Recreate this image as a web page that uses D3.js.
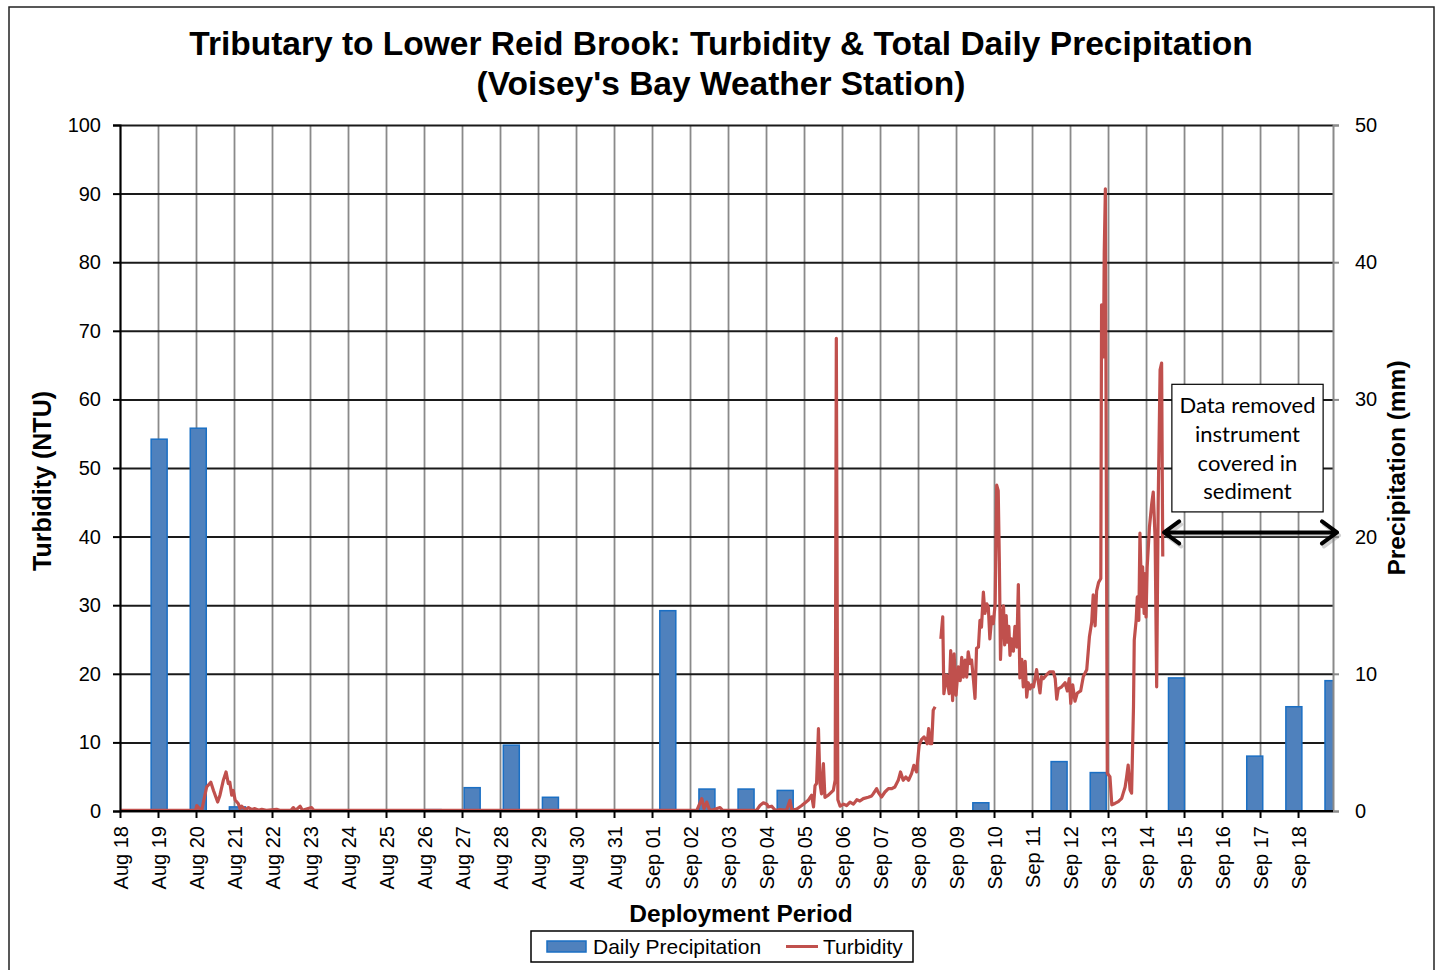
<!DOCTYPE html>
<html>
<head>
<meta charset="utf-8">
<script src="https://cdn.jsdelivr.net/npm/d3@7"></script>
<style>
  body { margin: 0; background: #fff; }
  svg { display: block; }
  text { font-family: "Liberation Sans", Arial, sans-serif; fill: #000; }
</style>
</head>
<body>
<svg width="1437" height="970"></svg>
<script>
// x tick labels, one per day from Aug 18
const dayLabels = ['Aug 18','Aug 19','Aug 20','Aug 21','Aug 22','Aug 23','Aug 24','Aug 25','Aug 26',
  'Aug 27','Aug 28','Aug 29','Aug 30','Aug 31','Sep 01','Sep 02','Sep 03','Sep 04','Sep 05','Sep 06',
  'Sep 07','Sep 08','Sep 09','Sep 10','Sep 11','Sep 12','Sep 13','Sep 14','Sep 15','Sep 16','Sep 17','Sep 18'];

// daily precipitation (mm), one bar per category (Aug 18 .. Sep 18)
const precip = [0, 27.1, 27.9, 0.3, 0, 0, 0, 0, 0.1, 1.7, 4.8, 1.0, 0, 0, 14.6, 1.6,
  1.6, 1.5, 0, 0, 0, 0, 0.6, 0, 3.6, 2.8, 0, 9.7, 0, 4.0, 7.6, 9.5];

// turbidity (NTU): time in days since Aug 18 00:00, null = gap in record
const turbDay = [0, 1.99, 2.02, 2.08, 2.15, 2.28, 2.39, 2.46, 2.57, 2.63, 2.72, 2.79, 2.85, 2.89, 2.94, 2.98,
  3.03, 3.11, 3.16, 3.2, 3.3, 3.38, 3.47, 3.55, 3.65, 3.73, 3.85, 4.12, 4.2, 4.5, 4.56, 4.62, 4.74, 4.8, 5.04, 5.1,
  15.18, 15.31, 15.37, 15.44, 15.51, 15.57, 15.79, 15.86, 16.75, 16.84, 16.93, 17.02, 17.06, 17.15, 17.24,
  17.37, 17.54, 17.63, 17.68, 17.81, 17.94, 18.03, 18.11, 18.2, 18.25, 18.29, 18.33, 18.38, 18.42, 18.46,
  18.51, 18.55, 18.64, 18.77, 18.82, 18.85, 18.89, 18.95, 19.04, 19.12, 19.21, 19.3, 19.39, 19.47, 19.56,
  19.69, 19.78, 19.82, 19.91, 19.95, 20.04, 20.13, 20.22, 20.31, 20.39, 20.48, 20.54, 20.61, 20.68, 20.75,
  20.83, 20.89, 20.96, 21.03, 21.09, 21.16, 21.21, 21.24, 21.28, 21.32, 21.36, 21.40, 21.45, 21.52,
  21.60, 21.65, 21.68, 21.75, 21.82, 21.86, 21.91, 21.95, 22.0, 22.06, 22.11, 22.15, 22.19, 22.24, 22.28,
  22.32, 22.37, 22.41, 22.46, 22.50, 22.54, 22.59, 22.63, 22.67, 22.72, 22.76, 22.81, 22.85, 22.89, 22.94,
  22.98, 23.03, 23.07, 23.11, 23.14, 23.17, 23.21, 23.25, 23.28, 23.32, 23.35, 23.39, 23.42, 23.46, 23.51,
  23.55, 23.60, 23.64, 23.68, 23.73, 23.77, 23.82, 23.86, 23.90, 23.95, 23.99, 24.04, 24.12, 24.17, 24.21,
  24.25, 24.30, 24.39, 24.47, 24.56, 24.61, 24.65, 24.69, 24.78, 24.87, 24.93, 24.98, 25.02, 25.07, 25.13,
  25.19, 25.28, 25.35, 25.44, 25.51, 25.57, 25.61, 25.66, 25.70, 25.75, 25.81, 25.83, 25.88, 25.90, 25.93,
  25.98, 26.05, 26.10, 26.18, 26.27, 26.36, 26.40, 26.45, 26.49, 26.53, 26.58, 26.62, 26.67, 26.69, 26.74,
  26.77, 26.81, 26.84, 26.89, 26.91, 26.95, 26.97, 27.0, 27.03, 27.09, 27.15, 27.19, 27.24, 27.28, 27.32,
  27.37, 27.41, 27.44];
const turbValue = [0.1, 0.1, 0.8, 0.4, 0.1, 3.5, 4.2, 3.0, 1.3, 2.3, 4.5, 5.7, 4.0, 4.2, 2.3, 3.0,
  1.6, 1.1, 0.35, 0.7, 0.2, 0.5, 0.2, 0.35, 0.1, 0.25, 0.1, 0.25, 0.1, 0.1, 0.5, 0.1, 0.7, 0.1, 0.5, 0.1,
  0.1, 1.8, 0.35, 1.3, 0.2, 0.1, 0.5, 0.1, 0.1, 0.8, 1.2, 1.0, 0.6, 0.7, 0.1,
  0.2, 0.1, 1.55, 0.1, 0.3, 0.8, 1.2, 1.55, 2.3, 0.6, 3.7, 4.0, 12.0, 4.0, 2.5,
  6.9, 2.0, 2.3, 3.0, 4.5, 68.9, 1.65, 0.7, 1.0, 0.8, 1.3, 1.0, 1.65, 1.45, 1.8,
  2.0, 2.2, 2.5, 3.26, 2.77, 2.04, 2.77, 3.26, 3.26, 3.5, 4.47, 5.69, 4.47, 4.96, 4.47,
  5.44, 6.66, 5.69, 9.57, 10.4, 10.8, 10.3, 9.8, 12.0, 9.8, 9.8, 14.7, 15.2, null,
  25.1, 28.3, 17.1, 19.8, 17.1, 23.4, 16.1, 22.9, 16.9, 21.0, 19.0, 22.4, 19.5, 22.0, 19.5,
  23.2, 21.5, 22.0, 19.0, 16.4, 23.7, 23.9, 27.8, 26.8, 31.9, 28.8, 30.2, 29.7, 25.1, 28.3,
  27.3, 30.2, 47.5, 46.7, 36.5, 22.1, 28.0, 29.9, 24.2, 28.5, 24.6, 26.9, 22.7, 25.1, 23.3,
  26.9, 23.9, 33.0, 19.4, 22.1, 18.1, 21.8, 16.6, 18.7, 17.8, 18.4, 18.1, 20.6, 18.7, 17.2,
  19.6, 19.3, 19.9, 20.3, 20.3, 19.3, 16.3, 17.8, 18.1, 18.7, 17.5, 19.3, 15.7, 18.4, 16.0,
  17.2, 17.5, 19.6, 20.6, 25.4, 27.5, 31.5, 27.0, 32.1, 33.3, 33.9, 73.8, 66.2, 81.4, 90.7,
  5.5, 5.0, 0.9, 1.1, 1.36, 1.85, 2.6, 3.5, 5.0, 6.7, 3.1, 2.6, 15.2, 24.9, 27.8,
  31.2, 27.8, 40.5, 29.8, 35.6, 28.8, 34.6, 28.3, 35.6, 41.4, 44.8, 46.5, 39.5, 18.1, 45.0,
  64.3, 65.3, 37.1];

const turbTicks = [0, 10, 20, 30, 40, 50, 60, 70, 80, 90, 100];
const precipTicks = [0, 10, 20, 30, 40, 50];
const noteLines = ['Data removed', 'instrument', 'covered in', 'sediment'];

const svg = d3.select('svg');
const margin = {left: 120, top: 125, right: 104, bottom: 159};
const width = 1437 - margin.left - margin.right;
const height = 970 - margin.top - margin.bottom;
const blue = '#4f81bd', red = '#c0504d';

// chart border
svg.append('rect').attr('x', 9).attr('y', 7).attr('width', 1425).attr('height', 990)
  .attr('fill', 'none').attr('stroke', '#222').attr('stroke-width', 1.5);

svg.append('text').attr('x', 721).attr('y', 55).attr('text-anchor', 'middle')
  .style('font-size', '33.5px').style('font-weight', 'bold')
  .text('Tributary to Lower Reid Brook: Turbidity & Total Daily Precipitation');
svg.append('text').attr('x', 721).attr('y', 95).attr('text-anchor', 'middle')
  .style('font-size', '33.5px').style('font-weight', 'bold')
  .text("(Voisey's Bay Weather Station)");

const g = svg.append('g').attr('transform', `translate(${margin.left},${margin.top})`);

const xLine = d3.scaleLinear().domain([0, 31.92]).range([0, width]);
const xBar = d3.scaleLinear().domain([0, precip.length - 1]).range([0, width]);
const yL = d3.scaleLinear().domain([0, 100]).range([height, 0]);
const yR = d3.scaleLinear().domain([0, 50]).range([height, 0]);

// grid
g.append('g').attr('class', 'vgrid')
  .attr('transform', `translate(0,${height})`)
  .call(d3.axisBottom(xLine).tickValues(d3.range(dayLabels.length)).tickSize(-height).tickFormat(''))
  .call(a => a.select('.domain').remove())
  .call(a => a.selectAll('line').attr('stroke', '#8a8a8a').attr('stroke-width', 1.8));
g.append('g').attr('class', 'hgrid')
  .call(d3.axisLeft(yL).tickValues(turbTicks).tickSize(-width).tickFormat(''))
  .call(a => a.select('.domain').remove())
  .call(a => a.selectAll('line').attr('stroke', '#1a1a1a').attr('stroke-width', 2));

svg.append('clipPath').attr('id', 'plot')
  .append('rect').attr('x', 0).attr('y', -5).attr('width', width + 1).attr('height', height + 10);

const plot = g.append('g').attr('clip-path', 'url(#plot)');

const barW = 16;
plot.selectAll('rect.bar').data(precip.map((v, i) => ({i, v})).filter(d => d.v > 0))
  .enter().append('rect')
  .attr('class', 'bar')
  .attr('x', d => xBar(d.i) - barW / 2)
  .attr('y', d => yR(d.v))
  .attr('width', barW)
  .attr('height', d => yR(0) - yR(d.v))
  .attr('fill', blue)
  .attr('stroke', '#1a6fc4')
  .attr('stroke-width', 1.5);

const turb = turbDay.map((d, i) => ({d, v: turbValue[i]}));
const line = d3.line().defined(d => d.v !== null).x(d => xLine(d.d)).y(d => yL(d.v));
plot.append('path').datum(turb)
  .attr('d', line)
  .attr('fill', 'none')
  .attr('stroke', red)
  .attr('stroke-width', 3.2)
  .attr('stroke-linejoin', 'round');

// axes
g.append('g')
  .call(d3.axisLeft(yL).tickValues(turbTicks).tickSize(7).tickPadding(12))
  .call(a => a.selectAll('line, path').attr('stroke', '#000').attr('stroke-width', 2))
  .call(a => a.selectAll('text').style('font-size', '20px').style('font-family', '"Liberation Sans", Arial'));

g.append('g').attr('transform', `translate(${width},0)`)
  .call(d3.axisRight(yR).tickValues(precipTicks).tickSize(6).tickPadding(16))
  .call(a => a.selectAll('line, path').attr('stroke', '#8a8a8a').attr('stroke-width', 2))
  .call(a => a.selectAll('text').style('font-size', '20px').style('font-family', '"Liberation Sans", Arial'));

g.append('g').attr('transform', `translate(0,${height})`)
  .call(d3.axisBottom(xLine).tickValues(d3.range(dayLabels.length)).tickFormat(i => dayLabels[i]).tickSize(7))
  .call(a => a.select('.domain').attr('d', `M0,0H${width}`))
  .call(a => a.selectAll('line, path').attr('stroke', '#000').attr('stroke-width', 2))
  .call(a => a.selectAll('text')
    .style('font-size', '20px').style('font-family', '"Liberation Sans", Arial')
    .attr('text-anchor', 'end')
    .attr('transform', 'rotate(-90)')
    .attr('x', -15).attr('y', 0).attr('dy', '0.35em'));

// axis titles
svg.append('text').attr('transform', 'translate(51,481) rotate(-90)').attr('text-anchor', 'middle')
  .style('font-size', '25px').style('font-weight', 'bold').text('Turbidity (NTU)');
svg.append('text').attr('transform', 'translate(1405,468) rotate(-90)').attr('text-anchor', 'middle')
  .style('font-size', '24.5px').style('font-weight', 'bold').text('Precipitation (mm)');
svg.append('text').attr('x', 741).attr('y', 922).attr('text-anchor', 'middle')
  .style('font-size', '24.5px').style('font-weight', 'bold').text('Deployment Period');

// annotation: box and double arrow
const bx = xLine(27.68), by = yL(62.2);
const note = g.append('g');
note.append('rect').attr('x', bx).attr('y', by)
  .attr('width', xLine(31.66) - bx).attr('height', yL(43.6) - by)
  .attr('fill', '#fff').attr('stroke', '#000').attr('stroke-width', 1.2);
note.selectAll('text').data(noteLines).enter().append('text')
  .attr('x', (bx + xLine(31.66)) / 2)
  .attr('y', (d, i) => by + 29 + i * 28.7)
  .attr('text-anchor', 'middle')
  .style('font-family', 'Lato, "Open Sans", sans-serif')
  .style('font-size', '22px')
  .text(d => d);

const ay = yL(40.6), ax0 = xLine(27.45), ax1 = width + 5;
const arrow = (dx, dy, col, op) => {
  const a = note.append('g').attr('transform', `translate(${dx},${dy})`).attr('opacity', op);
  a.append('path')
    .attr('d', `M${ax0 + 2},${ay}H${ax1 - 2}M${ax0 + 16},${ay - 11}L${ax0 + 1},${ay}L${ax0 + 16},${ay + 11}` +
      `M${ax1 - 16},${ay - 11}L${ax1 - 1},${ay}L${ax1 - 16},${ay + 11}`)
    .attr('fill', 'none').attr('stroke', col).attr('stroke-width', 4)
    .attr('stroke-linecap', 'round').attr('stroke-linejoin', 'round');
};
arrow(2, 3, '#777', 0.35);
arrow(0, 0, '#000', 1);

// legend
const lg = svg.append('g');
lg.append('rect').attr('x', 531).attr('y', 931).attr('width', 382).attr('height', 31)
  .attr('fill', '#fff').attr('stroke', '#000').attr('stroke-width', 1.5);
lg.append('rect').attr('x', 547).attr('y', 941).attr('width', 39).attr('height', 11)
  .attr('fill', blue).attr('stroke', '#1a6fc4').attr('stroke-width', 1.5);
lg.append('text').attr('x', 593).attr('y', 954).style('font-size', '21px').text('Daily Precipitation');
lg.append('line').attr('x1', 786).attr('x2', 818).attr('y1', 946.5).attr('y2', 946.5)
  .attr('stroke', red).attr('stroke-width', 3);
lg.append('text').attr('x', 823).attr('y', 954).style('font-size', '21px').text('Turbidity');
</script>
</body>
</html>
